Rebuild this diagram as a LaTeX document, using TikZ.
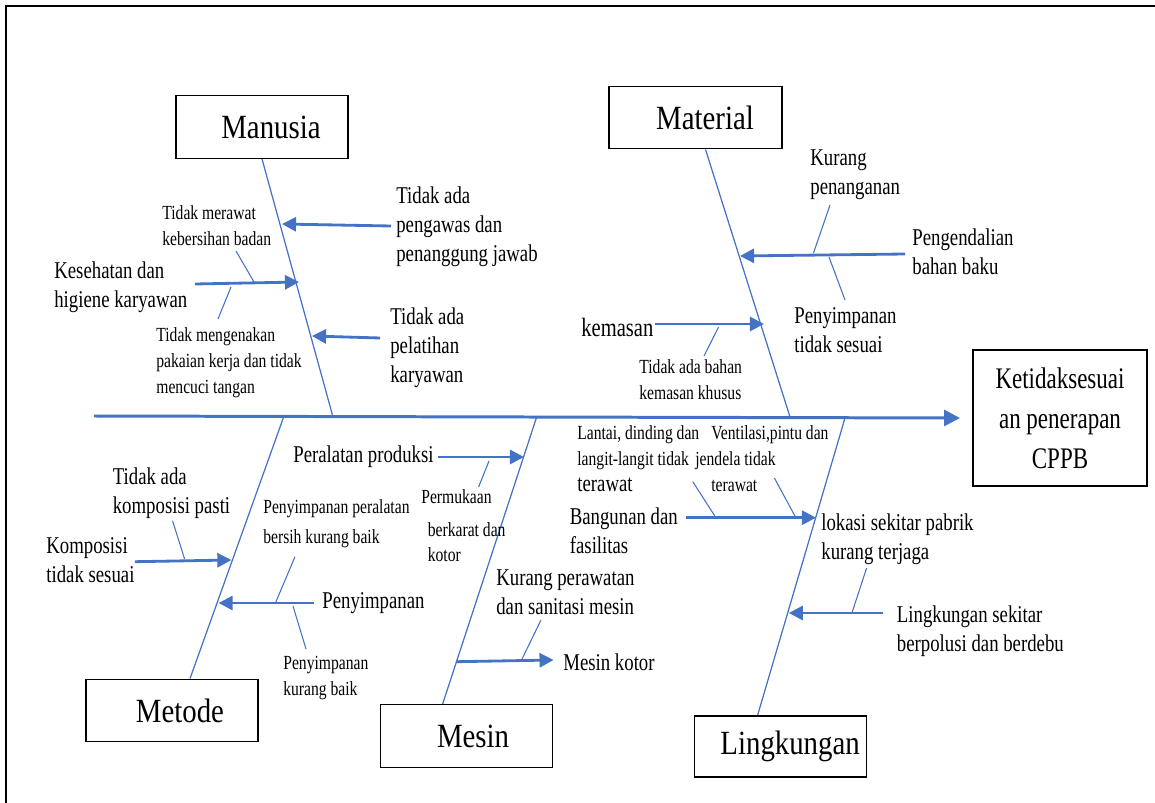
\documentclass[tikz,border=0pt]{standalone}
\usepackage{fontspec}
\setmainfont[FakeStretch=0.78]{Liberation Serif}
\newfontfamily\ttlfont[FakeStretch=0.85]{Liberation Serif}
\newfontfamily\effont[FakeStretch=0.77]{Liberation Serif}
\usetikzlibrary{arrows.meta,calc}
\definecolor{fishblue}{RGB}{68,114,196}
\tikzset{
  catbox/.style={draw, line width=0.8pt, minimum width=3.44cm, minimum height=1.25cm, inner sep=0pt, font=\ttlfont\fontsize{19.3}{23}\selectfont},
  medlbl/.style={inner sep=0pt, align=left, anchor=north west, font=\fontsize{13.7}{16.5}\selectfont},
  smllbl/.style={inner sep=0pt, align=left, anchor=north west, font=\fontsize{11.4}{14.8}\selectfont},
  bone/.style={draw=fishblue, line width=0.7pt},
  twig/.style={draw=fishblue, line width=0.6pt},
  cause/.style={draw=fishblue, line width=1.6pt, -{Triangle[length=8pt,width=8pt]}},
}

\begin{document}
\begin{tikzpicture}[x=0.02cm, y=-0.02cm]
			%%%%% START %%%%%
			\useasboundingbox (0,0) rectangle (1155,803);
			\draw[line width=1.4pt] (6,803) -- (6,6) -- (1155,6);
			
			% head and spine
			\node[draw, line width=0.8pt, minimum width=3.48cm, minimum height=2.72cm, align=center, font=\effont\fontsize{17}{22.8}\selectfont] (effect) at (1060,418) {Ketidaksesuai\\an penerapan\\CPPB};
			\coordinate (tail) at (94,416);
			\coordinate (head) at (960,418);
			\draw[fishblue, line width=1.7pt, -{Triangle[length=9pt,width=9pt]}] (tail) -- (head);
			
			% category boxes
			\node[catbox] (manusia) at (262,127) {\hspace*{0.36cm}Manusia};
			\node[catbox, minimum width=3.46cm] (material) at (695.5,117.5) {\hspace*{0.38cm}Material};
			\node[catbox] (metode) at (172,710.5) {\hspace*{0.32cm}Metode};
			\node[catbox] (mesin) at (466.6,736) {\hspace*{0.26cm}Mesin};
			\node[catbox, minimum height=1.22cm] (lingkungan) at (780.6,746.4) {\hspace*{0.38cm}Lingkungan};
			
			% bones
			\coordinate (sMan) at (333,417);
			\coordinate (sMat) at (790,417);
			\coordinate (sMet) at (284,416);
			\coordinate (sMes) at (537,416);
			\coordinate (sLin) at (845,418);
			\draw[bone] (manusia.south) -- (sMan);
			\draw[bone] ($(material.south)+(10,0)$) -- (sMat);
			\draw[bone] ($(metode.north)+(18,0)$) -- (sMet);
			\draw[bone] ($(mesin.north)+(-24,0)$) -- (sMes);
			\draw[bone] ($(lingkungan.north)+(-23,0)$) -- (sLin);
			
			% Manusia
			\node[medlbl] (pengawas) at (396,186) {Tidak ada\\pengawas dan\\penanggung jawab};
			\node[medlbl] (kesehatan) at (54,261) {Kesehatan dan\\higiene karyawan};
			\node[medlbl] (pelatihan) at (390,307) {Tidak ada\\pelatihan\\karyawan};
			\node[smllbl] (merawat) at (162,205) {Tidak merawat\\kebersihan badan};
			\node[smllbl] (pakaian) at (156,327) {Tidak mengenakan\\pakaian kerja dan tidak\\mencuci tangan};
			\coordinate (a1s) at (391,226); \coordinate (a1e) at (282,224);
			\coordinate (a2s) at (195,284); \coordinate (a2e) at (299,282);
			\coordinate (a3s) at (380,338); \coordinate (a3e) at (312,336);
			\draw[cause] (a1s) -- (a1e);
			\draw[cause] (a2s) -- (a2e);
			\draw[cause] (a3s) -- (a3e);
			\draw[twig] (236,251) -- (254,282);
			\draw[twig] (231,287) -- (218,319);
			
			% Material
			\node[medlbl] (kurang) at (810,149) {Kurang\\penanganan};
			\node[medlbl] (pengendalian) at (912,228) {Pengendalian\\bahan baku};
			\node[medlbl] (tdksesuai) at (794,307) {Penyimpanan\\tidak sesuai};
			\node[medlbl, anchor=west, font=\fontsize{15}{18}\selectfont] (kemasan) at (581,327) {kemasan};
			\node[smllbl] (bahan) at (639,359.5) {Tidak ada bahan\\kemasan khusus};
			\coordinate (a4s) at (905,254); \coordinate (a4e) at (740,256);
			\coordinate (a5s) at (655,324); \coordinate (a5e) at (764,324);
			\draw[cause] (a4s) -- (a4e);
			\draw[cause] (a5s) -- (a5e);
			\draw[twig] (830,205) -- (813.5,253);
			\draw[twig] (829,257) -- (845,300);
			\draw[twig] (718.6,327) -- (704,356);
			
			% Metode
			\node[medlbl] (pasti) at (112.5,467) {Tidak ada\\komposisi pasti};
			\node[medlbl] (komposisi) at (46,537) {Komposisi\\tidak sesuai};
			\node[smllbl, font=\fontsize{11.4}{17}\selectfont] (alatbersih) at (263,499.5) {Penyimpanan peralatan\\bersih kurang baik};
			\node[medlbl, anchor=west] (penyimpanan) at (322,603) {Penyimpanan};
			\node[smllbl] (kurangbaik) at (283,655.5) {Penyimpanan\\kurang baik};
			\coordinate (a6s) at (135,561.7); \coordinate (a6e) at (231.4,560);
			\coordinate (a7s) at (313.6,603); \coordinate (a7e) at (218.6,603);
			\draw[cause] (a6s) -- (a6e);
			\draw[cause] (a7s) -- (a7e);
			\draw[twig] (172.5,520.7) -- (184.6,559);
			\draw[twig] (295,556.7) -- (275,604);
			\draw[twig] (293,606) -- (306,649);
			
			% Mesin
			\node[medlbl, anchor=west] (produksi) at (293,457) {Peralatan produksi};
			\node[smllbl] (permukaan) at (421,489.5) {Permukaan};
			\node[smllbl, font=\fontsize{11.4}{14.2}\selectfont] (berkarat) at (427.5,522.5) {berkarat dan\\kotor};
			\node[medlbl] (perawatan) at (496,569) {Kurang perawatan\\dan sanitasi mesin};
			\node[medlbl, anchor=west] (mesinkotor) at (563,662) {Mesin kotor};
			\coordinate (a8s) at (438,457); \coordinate (a8e) at (524,457);
			\coordinate (a9s) at (456.4,661.7); \coordinate (a9e) at (553.6,660);
			\draw[cause] (a8s) -- (a8e);
			\draw[cause] (a9s) -- (a9e);
			\draw[twig] (489,461) -- (478.6,487);
			\draw[twig] (541,620) -- (522,659);
			
			% Lingkungan
			\node[smllbl] (lantai) at (577,425.5) {Lantai, dinding dan\\langit-langit tidak\\{\fontsize{13.7}{14.8}\selectfont terawat}};
			\node[smllbl] (ventilasi) at (695,425.5) {\hspace*{0.32cm}Ventilasi,pintu dan\\jendela tidak\\\hspace*{0.32cm}terawat};
			\node[medlbl] (bangunan) at (569.5,507.7) {Bangunan dan\\fasilitas};
			\node[medlbl] (lokasi) at (821,513.7) {lokasi sekitar pabrik\\kurang terjaga};
			\node[medlbl] (polusi) at (896.6,605) {Lingkungan sekitar\\berpolusi dan berdebu};
			\coordinate (a10s) at (686,517.7); \coordinate (a10e) at (816,517.7);
			\coordinate (a11s) at (882.6,613); \coordinate (a11e) at (788.8,613);
			\draw[cause] (a10s) -- (a10e);
			\draw[cause] (a11s) -- (a11e);
			\draw[twig] (692.8,481.7) -- (714.8,516);
			\draw[twig] (774.4,478) -- (795.3,516.7);
			\draw[twig] (866.6,568) -- (852,612.7);
			
			%%%%% END %%%%%
\end{tikzpicture}
\end{document}
